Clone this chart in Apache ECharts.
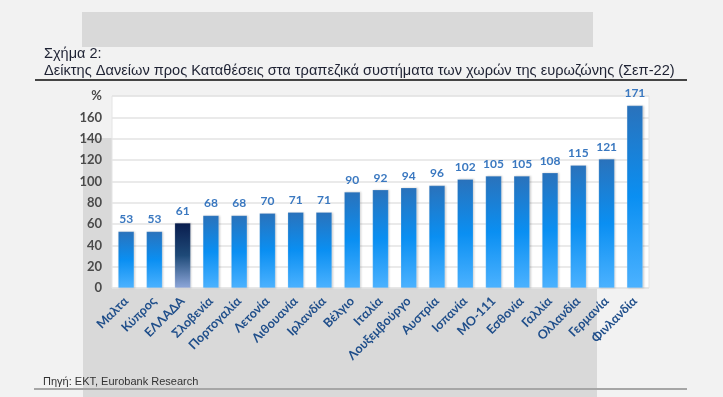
<!DOCTYPE html>
<html>
<head>
<meta charset="utf-8">
<script src="https://cdn.jsdelivr.net/npm/echarts@6/dist/echarts.min.js"></script>
<style>
html,body{margin:0;padding:0;background:#f2f2f2;}
#chart{width:723px;height:397px;}
</style>
</head>
<body>
<div id="chart"></div>
<script>
var categories = ['Μαλτα','Κύπρος','ΕΛΛΑΔΑ','Σλοβενία','Πορτογαλία','Λετονία','Λιθουανία','Ιρλανδία','Βέλγιο','Ιταλία','Λουξεμβούργο','Αυστρία','Ισπανία','ΜΟ-111','Εσθονία','Γαλλία','Ολλανδία','Γερμανία','Φινλανδία'];
var values = [53,53,61,68,68,70,71,71,90,92,94,96,102,105,105,108,115,121,171];
var highlight = 'ΕΛΛΑΔΑ';
var yTicks = [0,20,40,60,80,100,120,140,160,180];

var chart = echarts.init(document.getElementById('chart'), null, {renderer:'canvas'});
var G = echarts.graphic.LinearGradient;
var blue = new G(0,0,0,1,[{offset:0,color:'#2a72bb'},{offset:0.5,color:'#0a8ff2'},{offset:1,color:'#4cb2ff'}]);
var navy = new G(0,0,0,1,[{offset:0,color:'#0a1d4e'},{offset:0.5,color:'#1e4a78'},{offset:1,color:'#8ea7da'}]);

var data = values.map(function(v,i){
  return {value:v, itemStyle:{color: categories[i]===highlight ? navy : blue}};
});

chart.setOption({
  backgroundColor:'#f2f2f2',
  animation:false,
  graphic:[
    {type:'rect', z:-10, shape:{x:82,y:12,width:511,height:35}, style:{fill:'#d9d9d9'}},
    {type:'rect', z:-10, shape:{x:83,y:138,width:514,height:259}, style:{fill:'#d9d9d9'}},
    {type:'text', left:44, top:46, style:{text:'Σχήμα 2:', font:'14.5px "Liberation Sans"', fill:'#1e2233'}},
    {type:'text', left:44, top:63, style:{text:'Δείκτης Δανείων προς Καταθέσεις στα τραπεζικά συστήματα των χωρών της ευρωζώνης (Σεπ-22)', font:'14.6px "Liberation Sans"', fill:'#1e2233'}},
    {type:'line', shape:{x1:35,y1:80,x2:687,y2:80}, style:{stroke:'#444',lineWidth:2}},
    {type:'text', left:43, top:376, style:{text:'Πηγή: ΕΚΤ, Eurobank Research', font:'11px "Liberation Sans"', fill:'#333'}},
    {type:'line', shape:{x1:34,y1:389,x2:687,y2:389}, style:{stroke:'#a6a6a6',lineWidth:2}}
  ],
  grid:{left:112, right:74, top:96, bottom:109, show:true, backgroundColor:'#ffffff', borderColor:'#e4e4e4', borderWidth:1},
  xAxis:{
    type:'category', data:categories,
    axisLine:{show:false}, axisTick:{show:false},
    axisLabel:{rotate:45, interval:0, color:'#1f4e8a', fontWeight:'bold', fontSize:12.5, fontFamily:'Lato', margin:11}
  },
  yAxis:{
    type:'value', min:0, max:180, interval:20,
    axisLine:{show:false}, axisTick:{show:false},
    splitLine:{lineStyle:{color:'#e3e3e3', width:1.5}},
    axisLabel:{color:'#4a4a4a', fontSize:13, fontWeight:'bold', fontFamily:'Lato', margin:10,
      formatter:function(v){ return v===yTicks[yTicks.length-1] ? '%' : String(v); }}
  },
  series:[{
    type:'bar', data:data, barWidth:16,
    itemStyle:{borderColor:'rgba(255,255,255,0.35)', borderWidth:0.5, shadowColor:'rgba(0,0,0,0.18)', shadowBlur:2, shadowOffsetX:1, shadowOffsetY:0},
    label:{show:true, position:'top', distance:6, color:'#3a78c0', fontWeight:'bold', fontSize:12, fontFamily:'Lato'}
  }]
});
</script>
</body>
</html>
